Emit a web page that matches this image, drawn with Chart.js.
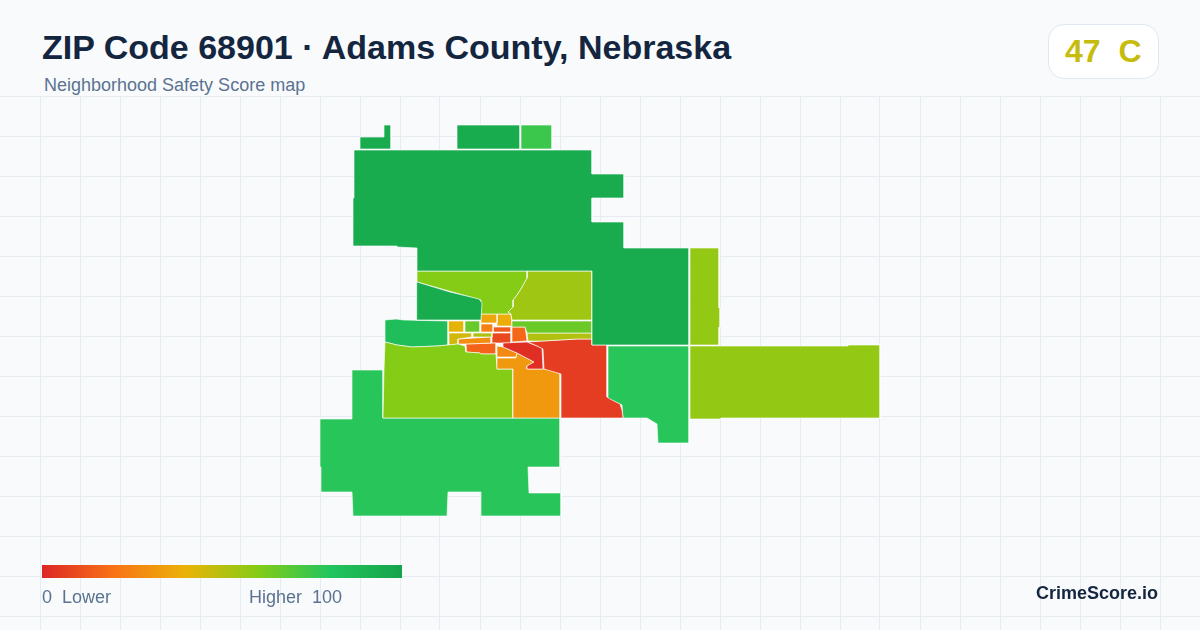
<!DOCTYPE html>
<html><head><meta charset="utf-8">
<script src="https://cdn.jsdelivr.net/npm/chart.js@4/dist/chart.umd.min.js"></script>
<style>
html,body{margin:0;padding:0;background:#f8fafc;width:1200px;height:630px;overflow:hidden;font-family:"Liberation Sans",Arial,sans-serif}
#wrap{position:absolute;left:0;top:96px;width:1200px;height:534px}
.t{position:absolute;white-space:pre;line-height:1}
#title{left:42px;top:30px;font-size:34px;font-weight:700;color:#14263f}
#sub{left:44px;top:76px;font-size:18px;color:#5b7390}
#pill{position:absolute;left:1048px;top:24px;width:109px;height:53px;background:#fff;border:1px solid #e2e8f0;border-radius:16px}
#grade{left:1065px;top:35px;font-size:32px;font-weight:700}
#bar{position:absolute;left:42px;top:565px;width:360px;height:13px}
#lo{left:42px;top:588px;font-size:18px;color:#5b7390}
#hi{right:858px;top:588px;font-size:18px;color:#5b7390}
#brand{right:42px;top:584px;font-size:18px;font-weight:700;color:#14263f}
</style></head><body>
<div id="wrap"><canvas id="c" width="1200" height="534"></canvas></div>
<div class="t" id="title"></div><div class="t" id="sub"></div>
<div id="pill"></div><div class="t" id="grade"></div>
<canvas id="bar" width="360" height="13"></canvas>
<div class="t" id="lo"></div><div class="t" id="hi"></div><div class="t" id="brand"></div>
<script>
const titleText = "ZIP Code 68901 · Adams County, Nebraska";
const subtitleText = "Neighborhood Safety Score map";
const overallScore = 47, overallGrade = "C";
const legendLow = "0  Lower", legendHigh = "Higher  100", brandText = "CrimeScore.io";
const scaleStops = [[0,"#dc2626"],[20,"#f97316"],[40,"#eab308"],[60,"#84cc16"],[80,"#22c55e"],[100,"#16a34a"]];

// Tract outlines, in map units, and the score of each tract
const northNotch = [[384,125],[391,125],[391,149],[360,149],[360,137],[384,137]];
const northBlockA = [[457,125],[520,125],[520,149],[457,149]];
const northBlockB = [[521,125],[552,125],[552,149],[521,149]];
const northMain = [[354,150],[592,150],[592,174],[624,174],[624,198],[592,198],[592,222],[624,222],[624,248],[689,248],[689,345],[592,345],[592,271],[417,271],[417,248],[397,247],[397,246],[353,246],[353,198],[354,198]];
const northWedge = [[417,282],[450,292],[479,299],[482,303],[481,320],[416,320],[416,312],[417,312]];
const northLime = [[417,271],[527,271],[527,278],[522,287],[517,295],[513,300],[513,307],[508,312],[511,314],[481,314],[481,300],[417,282]];
const northEastOlive = [[527,271],[592,271],[592,320],[512,320],[511,314],[508,312],[513,307],[513,300],[517,295],[522,287],[527,278]];
const eastStrip = [[512,321],[592,321],[592,333],[527,333],[525,327],[512,327]];
const eastOliveStrip = [[527,333],[592,333],[592,339],[577,339],[543,341],[528,341]];
const southEastRed = [[528,342],[543,341],[577,339],[592,339],[592,345],[607,345],[607,397],[610,399],[620,404],[622,410],[623,418],[561,418],[561,374],[551,371],[544,369],[543,349],[537,346]];
const coreRed = [[503,343],[527,342],[537,346],[542,348],[543,369],[527,369],[527,366],[534,362],[517,353],[503,347]];
const southOrange = [[497,358],[516,358],[517,353],[534,362],[527,366],[527,369],[544,369],[551,370],[560,374],[560,418],[513,418],[513,369],[497,369]];
const smallOrange = [[497,346],[503,347],[517,353],[516,357],[497,357]];
const southWestLime = [[385,342],[397,345],[412,347],[437,346],[448,345],[458,344],[465,346],[466,352],[480,353],[481,354],[496,354],[497,369],[513,369],[513,418],[383,418],[384,370]];
const westGreen = [[385,321],[385,320],[396,319],[404,320],[448,321],[448,345],[437,346],[412,347],[397,345],[385,342]];
const yellowBlock = [[448,321],[464,321],[464,332],[448,332]];
const greenBlock = [[465,321],[480,321],[480,332],[465,332]];
const oliveBlock = [[449,333],[472,333],[472,337],[458,339],[458,344],[449,345]];
const oliveThin = [[473,333],[492,333],[492,337],[473,337]];
const orangeStrip = [[458,339],[491,337],[491,343],[465,344],[458,344]];
const orangeRedStrip = [[466,344],[496,343],[496,354],[481,354],[480,353],[466,352]];
const coreTopA = [[481,314],[497,314],[497,323],[481,323]];
const coreTopB = [[497,314],[511,314],[512,326],[497,326]];
const coreMidA = [[481,324],[493,324],[493,332],[481,332]];
const coreMidB = [[493,327],[511,327],[511,332],[493,332]];
const coreMidC = [[492,333],[511,333],[511,343],[492,343]];
const coreMidD = [[512,327],[525,327],[526,333],[527,341],[512,342]];
const southMain = [[352,370],[383,370],[383,418],[560,418],[560,467],[528,467],[529,493],[561,493],[561,516],[481,516],[481,492],[448,492],[447,516],[353,516],[352,492],[321,492],[321,467],[320,467],[320,419],[352,419]];
const southEastGreen = [[608,346],[689,346],[689,443],[658,443],[657,424],[647,418],[623,418],[622,405],[609,399],[608,397]];
const eastColumn = [[690,248],[719,248],[719,308],[720,308],[720,327],[719,327],[719,345],[690,345]];
const farEast = [[690,346],[848,346],[848,345],[880,345],[880,418],[721,418],[721,419],[690,419]];

const tractOutlines = [northNotch,northBlockA,northBlockB,northMain,northWedge,northLime,northEastOlive,eastStrip,eastOliveStrip,southEastRed,coreRed,southOrange,smallOrange,southWestLime,westGreen,yellowBlock,greenBlock,oliveBlock,oliveThin,orangeStrip,orangeRedStrip,coreTopA,coreTopB,coreMidA,coreMidB,coreMidC,coreMidD,southMain,southEastGreen,eastColumn,farEast];
const tractScores = [95,95,75,95,95,60,55,65,51,6,2,32,27,60,84,41,66,45,52,28,16,36,38,24,14,9,17,79,79,57,57];
const gridX = [40,80,120,160,200,240,280,320,360,400,440,480,520,560,600,640,680,720,760,800,840,880,920,960,1000,1040,1080,1120,1160];
const gridY = [96,136,176,216,256,296,336,376,416,456,496,536,576,616];

function hexRgb(h){return [1,3,5].map(i=>parseInt(h.slice(i,i+2),16));}
function scoreColor(s){
  for(let i=1;i<scaleStops.length;i++){
    if(s<=scaleStops[i][0]){
      const a=scaleStops[i-1],b=scaleStops[i],t=(s-a[0])/(b[0]-a[0]);
      const ca=hexRgb(a[1]),cb=hexRgb(b[1]);
      return "rgb("+ca.map((v,k)=>Math.round(v+(cb[k]-v)*t)).join(",")+")";
    }
  }
  return scaleStops[scaleStops.length-1][1];
}
document.getElementById("title").textContent=titleText;
document.getElementById("sub").textContent=subtitleText;
const gradeEl=document.getElementById("grade");
gradeEl.textContent=overallScore+"  "+overallGrade;
gradeEl.style.color=scoreColor(overallScore);
document.getElementById("lo").textContent=legendLow;
document.getElementById("hi").textContent=legendHigh;
document.getElementById("brand").textContent=brandText;
const bctx=document.getElementById("bar").getContext("2d");
const g=bctx.createLinearGradient(0,0,360,0);
scaleStops.forEach(s=>g.addColorStop(s[0]/100,s[1]));
bctx.fillStyle=g;bctx.fillRect(0,0,360,13);

new Chart(document.getElementById("c"),{
  type:"scatter",
  data:{datasets:tractOutlines.map((o,i)=>({
    label:"Tract "+(i+1),
    data:o.concat([o[0]]).map(p=>({x:p[0],y:p[1]})),
    showLine:true,fill:"shape",backgroundColor:scoreColor(tractScores[i]),
    borderColor:"rgba(255,255,255,0.9)",borderWidth:0.7,pointRadius:0,pointHoverRadius:0,tension:0,clip:false
  }))},
  options:{
    responsive:false,animation:false,devicePixelRatio:1,
    layout:{padding:0},
    plugins:{legend:{display:false},tooltip:{enabled:false},title:{display:false}},
    scales:{
      x:{type:"linear",min:0,max:1200,border:{display:false},
         afterBuildTicks:a=>{a.ticks=gridX.map(v=>({value:v}));},
         ticks:{display:false},grid:{color:"#e6edf2",lineWidth:1,drawTicks:false}},
      y:{type:"linear",min:96,max:630,reverse:true,border:{display:false},
         afterBuildTicks:a=>{a.ticks=gridY.map(v=>({value:v}));},
         ticks:{display:false},grid:{color:"#e6edf2",lineWidth:1,drawTicks:false}}
    }
  }
});
</script>
</body></html>
